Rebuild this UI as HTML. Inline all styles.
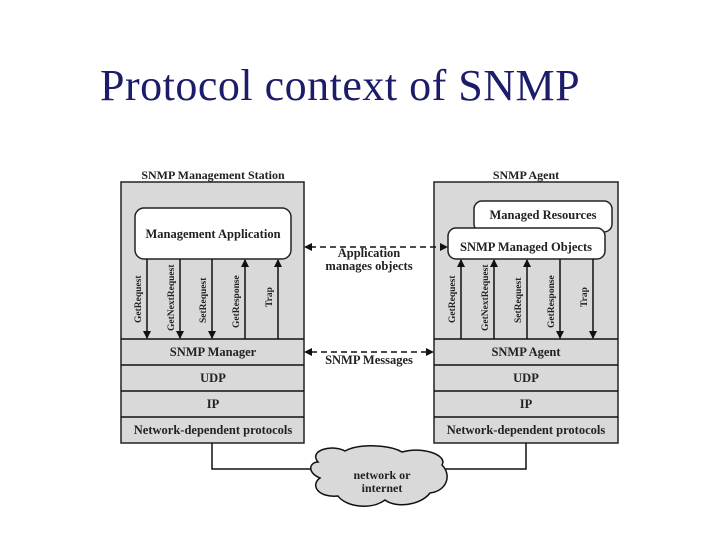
<!DOCTYPE html>
<html><head><meta charset="utf-8"><style>
body{margin:0;background:#fff;}
svg text{font-family:"Liberation Serif",serif;font-weight:bold;fill:#222;}
</style></head><body>
<svg width="720" height="540" viewBox="0 0 720 540" xmlns="http://www.w3.org/2000/svg">
<defs>
<marker id="a" markerWidth="8" markerHeight="8" refX="7" refY="4" orient="auto" markerUnits="userSpaceOnUse"><path d="M0,0L8,4L0,8z" fill="#111"/></marker>
</defs>
<text x="100" y="100" style="font-family:'Liberation Serif',serif;font-weight:normal;font-size:44px;letter-spacing:0.5px;fill:#1c1c6a">Protocol context of SNMP</text>

<!-- left station -->
<text x="213" y="179" font-size="12" text-anchor="middle">SNMP Management Station</text>
<rect x="121" y="182" width="183" height="261" fill="#d9d9d9" stroke="#222" stroke-width="1.5"/>
<rect x="135" y="208" width="156" height="51" rx="9" fill="#fff" stroke="#222" stroke-width="1.5"/>
<text x="213" y="238" font-size="12.5" text-anchor="middle">Management Application</text>
<g stroke="#111" stroke-width="1.5" fill="none">
<line x1="121" y1="339" x2="304" y2="339"/><line x1="121" y1="365" x2="304" y2="365"/>
<line x1="121" y1="391" x2="304" y2="391"/><line x1="121" y1="417" x2="304" y2="417"/>
<line x1="147" y1="259" x2="147" y2="338" marker-end="url(#a)"/>
<line x1="180" y1="259" x2="180" y2="338" marker-end="url(#a)"/>
<line x1="212" y1="259" x2="212" y2="338" marker-end="url(#a)"/>
<line x1="245" y1="339" x2="245" y2="260" marker-end="url(#a)"/>
<line x1="278" y1="339" x2="278" y2="260" marker-end="url(#a)"/>
</g>
<g font-size="9.5">
<text transform="translate(141,323) rotate(-90)">GetRequest</text>
<text transform="translate(174,331) rotate(-90)">GetNextRequest</text>
<text transform="translate(206,323) rotate(-90)">SetRequest</text>
<text transform="translate(239,328) rotate(-90)">GetResponse</text>
<text transform="translate(272,307) rotate(-90)">Trap</text>
</g>
<g font-size="12.5" text-anchor="middle">
<text x="213" y="356">SNMP Manager</text><text x="213" y="382">UDP</text>
<text x="213" y="408">IP</text><text x="213" y="434">Network-dependent protocols</text>
</g>

<!-- right agent -->
<text x="526" y="179" font-size="12" text-anchor="middle">SNMP Agent</text>
<rect x="434" y="182" width="184" height="261" fill="#d9d9d9" stroke="#222" stroke-width="1.5"/>
<rect x="474" y="201" width="138" height="31" rx="8" fill="#fff" stroke="#222" stroke-width="1.5"/>
<text x="543" y="219" font-size="12.5" text-anchor="middle">Managed Resources</text>
<rect x="448" y="228" width="157" height="31" rx="8" fill="#fff" stroke="#222" stroke-width="1.5"/>
<text x="526" y="251" font-size="12.5" text-anchor="middle">SNMP Managed Objects</text>
<g stroke="#111" stroke-width="1.5" fill="none">
<line x1="434" y1="339" x2="618" y2="339"/><line x1="434" y1="365" x2="618" y2="365"/>
<line x1="434" y1="391" x2="618" y2="391"/><line x1="434" y1="417" x2="618" y2="417"/>
<line x1="461" y1="339" x2="461" y2="260" marker-end="url(#a)"/>
<line x1="494" y1="339" x2="494" y2="260" marker-end="url(#a)"/>
<line x1="527" y1="339" x2="527" y2="260" marker-end="url(#a)"/>
<line x1="560" y1="259" x2="560" y2="338" marker-end="url(#a)"/>
<line x1="593" y1="259" x2="593" y2="338" marker-end="url(#a)"/>
</g>
<g font-size="9.5">
<text transform="translate(455,323) rotate(-90)">GetRequest</text>
<text transform="translate(488,331) rotate(-90)">GetNextRequest</text>
<text transform="translate(521,323) rotate(-90)">SetRequest</text>
<text transform="translate(554,328) rotate(-90)">GetResponse</text>
<text transform="translate(587,307) rotate(-90)">Trap</text>
</g>
<g font-size="12.5" text-anchor="middle">
<text x="526" y="356">SNMP Agent</text><text x="526" y="382">UDP</text>
<text x="526" y="408">IP</text><text x="526" y="434">Network-dependent protocols</text>
</g>

<!-- dashed connectors -->
<g stroke="#111" stroke-width="1.5" stroke-dasharray="6,4" fill="none">
<line x1="310" y1="247" x2="441" y2="247"/>
<line x1="311" y1="352" x2="427" y2="352"/>
</g>
<path d="M304,247l8,-4v8z M448,247l-8,-4v8z M304,352l8,-4v8z M434,352l-8,-4v8z" fill="#111"/>
<g font-size="12.5" text-anchor="middle">
<text x="369" y="257">Application</text><text x="369" y="270">manages objects</text>
<text x="369" y="364">SNMP Messages</text>
</g>

<!-- network -->
<g stroke="#111" stroke-width="1.5" fill="none">
<polyline points="212,443 212,469 316,469"/>
<polyline points="526,443 526,469 442,469"/>
</g>
<path d="M318,462 C308,450 333,444 345,451 C360,443 390,445 402,452 C422,446 448,455 442,465 C452,475 447,491 430,493 C420,506 395,508 385,500 C370,511 345,506 338,496 C318,498 310,485 320,478 C306,472 310,462 318,462Z" fill="#d9d9d9" stroke="#111" stroke-width="1.5"/>
<g font-size="12" text-anchor="middle"><text x="382" y="479">network or</text><text x="382" y="492">internet</text></g>
</svg>
</body></html>
